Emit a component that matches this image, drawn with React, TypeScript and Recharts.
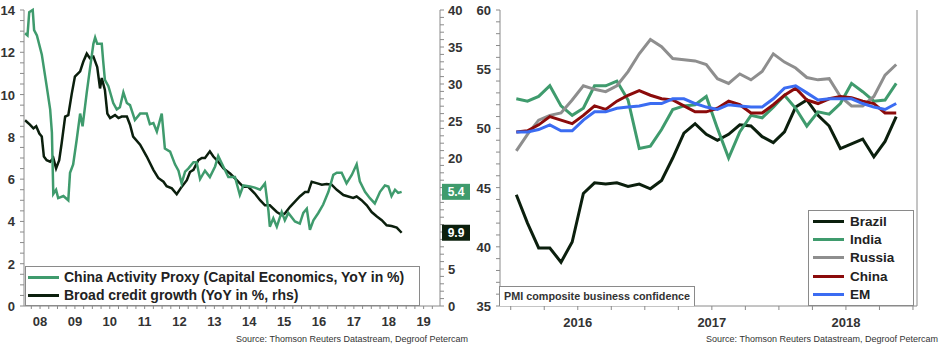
import React from "react";
import { LineChart, Line, XAxis, YAxis, Legend, ReferenceDot } from "recharts";

const FONT = "'Liberation Sans', Arial, Helvetica, sans-serif";
const GREEN = "#3f9b6d";
const DARK = "#0b1f0d";
const AXIS = "#8a8a8a";
const TEXT = "#333";

// ---- left chart: China activity proxy vs broad credit growth ----
const proxyDates = [
  2008.07, 2008.14, 2008.19, 2008.29, 2008.33, 2008.41, 2008.55, 2008.69, 2008.79, 2008.84,
  2008.88, 2008.96, 2009.02, 2009.17, 2009.31, 2009.36, 2009.45, 2009.55, 2009.65, 2009.72,
  2009.84, 2009.93, 2010.03, 2010.08, 2010.14, 2010.27, 2010.31, 2010.36, 2010.46, 2010.6,
  2010.7, 2010.79, 2010.89, 2010.99, 2011.08, 2011.22, 2011.37, 2011.56, 2011.65, 2011.75,
  2011.85, 2011.99, 2012.08, 2012.23, 2012.37, 2012.47, 2012.56, 2012.66, 2012.75, 2012.9,
  2012.99, 2013.09, 2013.23, 2013.37, 2013.52, 2013.61, 2013.71, 2013.9, 2014.09, 2014.23,
  2014.33, 2014.52, 2014.66, 2014.81, 2014.95, 2015.05, 2015.09, 2015.19, 2015.29, 2015.43,
  2015.52, 2015.62, 2015.81, 2015.95, 2016.05, 2016.15, 2016.24, 2016.34, 2016.48, 2016.62,
  2016.77, 2016.91, 2017.01, 2017.15, 2017.29, 2017.44, 2017.58, 2017.67, 2017.82, 2017.96,
  2018.1, 2018.25, 2018.39, 2018.49, 2018.58, 2018.68, 2018.77, 2018.87,
];
const proxyValues = [
  12.9, 12.8, 13.9, 14.0, 13.05, 12.8, 11.9, 10.4, 9.3, 8.2,
  5.3, 5.5, 5.1, 5.2, 5.0, 6.3, 6.7, 7.85, 9.1, 8.5,
  10.1, 11.2, 12.4, 12.7, 12.4, 12.4, 11.6, 10.7, 10.4, 9.6,
  9.3, 9.4, 10.1, 9.6, 9.5, 8.8, 9.1, 9.1, 8.6, 8.65,
  8.25, 9.1, 7.45, 7.3, 6.7, 6.4, 5.8, 6.35, 6.5, 6.8,
  6.8, 6.0, 6.4, 6.1, 6.6, 7.1, 6.75, 6.1, 6.1, 5.25,
  5.7, 5.65, 5.6, 5.5, 5.8, 4.5, 3.75, 4.15, 3.75, 4.45,
  4.05, 4.4, 4.0, 3.9, 4.4, 4.6, 3.6, 4.05, 4.4, 4.8,
  5.4, 6.2, 6.3, 6.3, 5.8, 6.2, 6.7, 5.9, 5.4, 5.1,
  4.85, 5.4, 5.7, 5.65, 5.2, 5.5, 5.35, 5.4,
];
const creditDates = [
  2008.07, 2008.21, 2008.31, 2008.39, 2008.48, 2008.55, 2008.61, 2008.69, 2008.79, 2008.88,
  2008.96, 2009.05, 2009.12, 2009.22, 2009.31, 2009.41, 2009.5, 2009.65, 2009.74, 2009.84,
  2009.93, 2010.03, 2010.14, 2010.22, 2010.27, 2010.36, 2010.43, 2010.51, 2010.65, 2010.75,
  2010.84, 2010.99, 2011.08, 2011.17, 2011.37, 2011.56, 2011.75, 2011.89, 2012.04, 2012.13,
  2012.28, 2012.42, 2012.56, 2012.71, 2012.8, 2012.9, 2013.04, 2013.14, 2013.23, 2013.37,
  2013.47, 2013.61, 2013.76, 2013.95, 2014.14, 2014.33, 2014.47, 2014.66, 2014.81, 2014.95,
  2015.09, 2015.29, 2015.43, 2015.52, 2015.67, 2015.81, 2015.95, 2016.1, 2016.19, 2016.29,
  2016.43, 2016.58, 2016.72, 2016.86, 2017.01, 2017.2, 2017.34, 2017.48, 2017.58, 2017.72,
  2017.87, 2018.01, 2018.16, 2018.3, 2018.44, 2018.58, 2018.73, 2018.87,
];
const creditValues = [
  25.1, 24.5, 24.0, 24.3, 23.3, 22.9, 20.2, 19.7, 19.5, 20.0,
  18.6, 19.7, 22.0, 25.6, 25.8, 28.7, 31.0, 31.7, 33.0, 34.1,
  33.5, 33.7, 32.3, 29.4, 30.8, 29.2, 26.0, 25.4, 25.8, 25.4,
  25.6, 25.6, 24.5, 22.9, 21.8, 20.2, 18.4, 17.3, 16.8, 16.2,
  15.9, 15.1, 16.1, 17.0, 18.1, 18.4, 19.7, 20.0, 20.0, 20.9,
  20.2, 19.5, 18.6, 17.9, 17.0, 16.1, 16.1, 15.2, 14.3, 13.6,
  13.6, 12.7, 12.3, 12.5, 13.4, 14.1, 14.8, 15.4, 15.4, 16.8,
  16.6, 16.4, 16.5, 16.4, 15.7, 15.0, 14.8, 14.6, 14.8, 14.3,
  13.6, 12.7, 12.1, 11.6, 10.9, 10.8, 10.6, 9.9,
];
const leftYearLabels = ["08", "09", "10", "11", "12", "13", "14", "15", "16", "17", "18", "19"];
const leftFirstYear = 2008;
const leftSeriesNames = ["China Activity Proxy (Capital Economics, YoY in %)", "Broad credit growth (YoY in %, rhs)"];

// ---- right chart: PMI composite business confidence ----
const pmiMonths = [
  "2016-01", "2016-02", "2016-03", "2016-04", "2016-05", "2016-06", "2016-07", "2016-08", "2016-09", "2016-10", "2016-11", "2016-12",
  "2017-01", "2017-02", "2017-03", "2017-04", "2017-05", "2017-06", "2017-07", "2017-08", "2017-09", "2017-10", "2017-11", "2017-12",
  "2018-01", "2018-02", "2018-03", "2018-04", "2018-05", "2018-06", "2018-07", "2018-08", "2018-09", "2018-10", "2018-11",
];
const brazil = [
  44.4, 42.0, 39.9, 39.9, 38.7, 40.4, 44.5, 45.4, 45.3, 45.4, 45.1, 45.3,
  44.9, 45.6, 47.5, 49.6, 50.4, 49.5, 49.0, 49.5, 50.3, 50.2, 49.3, 48.8,
  49.7, 51.8, 52.4, 51.1, 50.2, 48.3, 48.7, 49.1, 47.6, 48.9, 51.0,
];
const india = [
  52.5, 52.3, 52.7, 53.6, 51.9, 51.1, 51.7, 53.6, 53.6, 54.0, 52.4, 48.3,
  48.5, 49.9, 51.6, 51.9, 52.0, 52.7, 50.0, 47.5, 49.7, 51.1, 50.9, 51.8,
  52.8, 51.7, 50.2, 51.4, 51.2, 52.1, 53.8, 53.1, 52.3, 52.4, 53.8,
];
const russia = [
  48.1, 49.5, 50.7, 51.1, 51.3, 52.4, 53.6, 53.3, 53.1, 53.6, 54.8, 56.3,
  57.5, 56.9, 55.9, 55.8, 55.7, 55.4, 54.2, 53.8, 54.6, 54.1, 54.8, 56.3,
  55.6, 55.1, 54.3, 54.1, 54.2, 52.7, 51.9, 51.9, 52.7, 54.5, 55.4,
];
const china = [
  49.7, 49.8, 50.3, 51.0, 50.7, 50.4, 51.1, 51.9, 51.6, 52.3, 52.8, 53.2,
  52.8, 52.5, 52.4, 51.9, 51.4, 51.4, 51.7, 52.3, 52.0, 51.3, 51.3, 52.0,
  52.8, 53.4, 52.4, 52.1, 52.5, 52.7, 52.6, 52.3, 52.1, 51.3, 51.3,
];
const em = [
  49.7, 49.7, 49.9, 50.3, 49.8, 49.8, 50.7, 51.4, 51.4, 51.7, 51.8, 51.9,
  52.1, 52.1, 52.5, 52.5, 52.1, 51.8, 51.6, 52.0, 51.9, 51.8, 51.8, 52.5,
  53.4, 53.6, 53.0, 52.4, 52.5, 52.5, 52.5, 52.1, 51.8, 51.6, 52.1,
];
const pmiYearLabels = ["2016", "2017", "2018"];
const pmiFirstYear = 2016;
const pmiSeriesNames = ["Brazil", "India", "Russia", "China", "EM"];

const proxyData = proxyDates.map((t, i) => ({ t, v: proxyValues[i] }));
const creditData = creditDates.map((t, i) => ({ t, v: creditValues[i] }));
const pmiData = pmiMonths.map((m, i) => {
  const [y, mo] = m.split("-").map(Number);
  return { t: y + (mo - 0.5) / 12, brazil: brazil[i], india: india[i], russia: russia[i], china: china[i], em: em[i] };
});

const quarterTicks = (from: number, to: number, lo: number, hi: number) => {
  const out: number[] = [];
  for (let y = from; y <= to; y++) for (let q = 0; q < 4; q++) {
    const v = y + q / 4;
    if (v >= lo && v <= hi) out.push(v);
  }
  return out;
};
const range = (a: number, b: number, s: number) => {
  const out: number[] = [];
  for (let v = a; v <= b + 1e-9; v += s) out.push(Math.round(v * 10) / 10);
  return out;
};

// label only the major ticks; `hidden` are covered by the last-value tags
const yTick = (major: number, hidden: number[] = []) => (props: any) => {
  const { x, y, payload, textAnchor } = props;
  const v = payload.value;
  if (Math.abs(v / major - Math.round(v / major)) > 1e-6 || hidden.includes(v)) return <g />;
  return (
    <text x={x} y={y} dy={5} textAnchor={textAnchor} fontSize={13} fontWeight="bold" fill={TEXT} fontFamily={FONT}>
      {v}
    </text>
  );
};

const xYearTick = (labels: string[], first: number) => (props: any) => {
  const { x, y, payload } = props;
  const v = payload.value;
  if (Math.abs(v - Math.floor(v) - 0.5) > 1e-6) return <g />;
  const label = labels[Math.floor(v) - first];
  if (!label) return <g />;
  return (
    <text x={x} y={y} dy={15} textAnchor="middle" fontSize={13} fontWeight="bold" fill={TEXT} fontFamily={FONT}>
      {label}
    </text>
  );
};

const LegendBox = (props: any) => {
  const { payload, order, rowHeight, fontSize, padLeft, padTop, lineGap } = props;
  const items = [...(payload || [])].sort((a: any, b: any) => order.indexOf(a.value) - order.indexOf(b.value));
  return (
    <div
      style={{
        border: `1px solid ${AXIS}`,
        background: "#fff",
        boxSizing: "border-box",
        width: "100%",
        height: "100%",
        padding: `${padTop}px 0 0 ${padLeft}px`,
        fontFamily: FONT,
        fontWeight: "bold",
        fontSize,
        color: "#222",
        textAlign: "left",
      }}
    >
      {items.map((e: any) => (
        <div key={e.value} style={{ display: "flex", alignItems: "center", height: rowHeight, whiteSpace: "nowrap" }}>
          <span style={{ display: "inline-block", width: 31, height: 3, background: e.color, marginRight: lineGap }} />
          <span>{e.value}</span>
        </div>
      ))}
    </div>
  );
};

const valueTag = (color: string, text: string) => (p: any) => (
  <g>
    <rect x={p.cx + 2} y={p.cy - 8} width={28} height={16} fill={color} />
    <text x={p.cx + 16} y={p.cy + 4.5} textAnchor="middle" fontSize={12} fontWeight="bold" fill="#fff" fontFamily={FONT}>
      {text}
    </text>
  </g>
);

const sourceStyle: React.CSSProperties = {
  position: "absolute",
  top: 334,
  width: 468,
  textAlign: "right",
  fontFamily: FONT,
  fontSize: 9,
  color: TEXT,
  whiteSpace: "nowrap",
};

export default function App() {
  const leftDomain: [number, number] = [2008.04, 2019.97];
  const rightDomain: [number, number] = [2015.92, 2019.03];
  const lastProxy = proxyValues[proxyValues.length - 1];
  const lastCredit = creditValues[creditValues.length - 1];

  return (
    <div style={{ position: "absolute", left: 0, top: 0, width: 940, height: 345, background: "#fff", overflow: "hidden" }}>
      {/* left chart */}
      <div style={{ position: "absolute", left: 0, top: 0 }}>
        <LineChart width={470} height={345} margin={{ top: 10, right: 0, bottom: 9, left: 0 }}>
          <XAxis
            dataKey="t"
            type="number"
            domain={leftDomain}
            ticks={quarterTicks(2008, 2019, leftDomain[0], leftDomain[1])}
            interval={0}
            tick={xYearTick(leftYearLabels, leftFirstYear)}
            tickSize={3}
            height={30}
            stroke={AXIS}
          />
          <YAxis
            yAxisId="left"
            domain={[0, 14]}
            ticks={range(0, 14, 0.5)}
            interval={0}
            tick={yTick(2)}
            tickSize={4}
            tickMargin={5}
            width={24}
            stroke={AXIS}
          />
          <YAxis
            yAxisId="right"
            orientation="right"
            domain={[0, 40]}
            ticks={range(0, 40, 1)}
            interval={0}
            tick={yTick(5, [10, 15])}
            tickSize={4}
            tickMargin={4}
            width={30}
            stroke={AXIS}
          />
          <Line
            yAxisId="right"
            data={creditData}
            dataKey="v"
            name={leftSeriesNames[1]}
            stroke={DARK}
            strokeWidth={2.5}
            dot={false}
            isAnimationActive={false}
          />
          <Line
            yAxisId="left"
            data={proxyData}
            dataKey="v"
            name={leftSeriesNames[0]}
            stroke={GREEN}
            strokeWidth={2.5}
            dot={false}
            isAnimationActive={false}
          />
          <ReferenceDot
            yAxisId="left"
            x={leftDomain[1]}
            y={lastProxy}
            ifOverflow="visible"
            shape={valueTag(GREEN, lastProxy.toFixed(1))}
          />
          <ReferenceDot
            yAxisId="right"
            x={leftDomain[1]}
            y={lastCredit}
            ifOverflow="visible"
            shape={valueTag(DARK, lastCredit.toFixed(1))}
          />
          <Legend
            layout="vertical"
            align="center"
            verticalAlign="middle"
            wrapperStyle={{ left: 25, top: 266, width: 395, height: 40 }}
            content={(p: any) => (
              <LegendBox payload={p.payload} order={leftSeriesNames} rowHeight={18} fontSize={14} padLeft={2} padTop={1} lineGap={5} />
            )}
          />
        </LineChart>
        <div style={{ ...sourceStyle, left: 0 }}>Source: Thomson Reuters Datastream, Degroof Petercam</div>
      </div>

      {/* right chart */}
      <div style={{ position: "absolute", left: 470, top: 0 }}>
        <LineChart width={470} height={345} data={pmiData} margin={{ top: 10, right: 0, bottom: 9, left: 0 }}>
          <XAxis
            dataKey="t"
            type="number"
            domain={rightDomain}
            ticks={quarterTicks(2016, 2019, rightDomain[0], rightDomain[1])}
            interval={0}
            tick={xYearTick(pmiYearLabels, pmiFirstYear)}
            tickSize={4}
            height={30}
            stroke={AXIS}
          />
          <YAxis
            yAxisId="l"
            domain={[35, 60]}
            ticks={range(35, 60, 1)}
            interval={0}
            tick={yTick(5)}
            tickSize={4}
            tickMargin={5}
            width={30}
            stroke={AXIS}
          />
          <YAxis
            yAxisId="r"
            orientation="right"
            domain={[35, 60]}
            ticks={range(35, 60, 1)}
            interval={0}
            tick={yTick(5)}
            tickSize={4}
            tickMargin={3}
            width={23}
            stroke={AXIS}
          />
          <Line yAxisId="l" dataKey="brazil" name="Brazil" stroke={DARK} strokeWidth={3} dot={false} isAnimationActive={false} />
          <Line yAxisId="l" dataKey="india" name="India" stroke={GREEN} strokeWidth={3} dot={false} isAnimationActive={false} />
          <Line yAxisId="l" dataKey="russia" name="Russia" stroke="#8e8e8e" strokeWidth={3} dot={false} isAnimationActive={false} />
          <Line yAxisId="l" dataKey="china" name="China" stroke="#8b0b0b" strokeWidth={3} dot={false} isAnimationActive={false} />
          <Line yAxisId="l" dataKey="em" name="EM" stroke="#3b6cf2" strokeWidth={3} dot={false} isAnimationActive={false} />
          <Legend
            layout="vertical"
            align="center"
            verticalAlign="middle"
            wrapperStyle={{ left: 338, top: 210, width: 106, height: 96 }}
            content={(p: any) => (
              <LegendBox payload={p.payload} order={pmiSeriesNames} rowHeight={18.3} fontSize={13.5} padLeft={4} padTop={1} lineGap={6} />
            )}
          />
        </LineChart>
        <div
          style={{
            position: "absolute",
            left: 29,
            top: 286,
            width: 196,
            height: 20,
            boxSizing: "border-box",
            border: `1px solid ${AXIS}`,
            borderBottom: "none",
            background: "#fff",
            fontFamily: FONT,
            fontWeight: "bold",
            fontSize: 10.8,
            color: TEXT,
            textAlign: "center",
            lineHeight: "19px",
            whiteSpace: "nowrap",
          }}
        >
          PMI composite business confidence
        </div>
        <div style={{ ...sourceStyle, left: 0 }}>Source: Thomson Reuters Datastream, Degroof Petercam</div>
      </div>
    </div>
  );
}
